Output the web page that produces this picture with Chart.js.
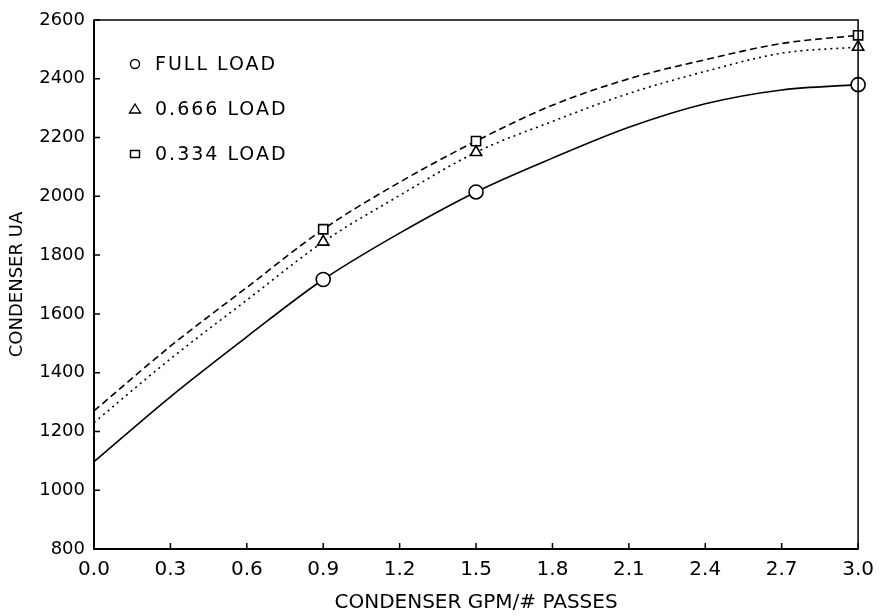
<!DOCTYPE html>
<html>
<head>
<meta charset="utf-8">
<script src="https://cdn.jsdelivr.net/npm/chart.js@4.4.1/dist/chart.umd.min.js"></script>
<style>
  html, body { margin: 0; padding: 0; background: #fff; }
  #wrap { width: 883px; height: 616px; }
</style>
</head>
<body>
<div id="wrap"><canvas id="ua-chart"></canvas></div>
<script>
// values
const xValues = [0.0, 0.3, 0.6, 0.9, 1.2, 1.5, 1.8, 2.1, 2.4, 2.7, 3.0];
const fullLoad = [1097, 1318, 1522, 1717, 1875, 2015, 2130, 2235, 2315, 2362, 2380];
const load666 = [1230, 1447, 1647, 1845, 2003, 2150, 2255, 2350, 2425, 2487, 2508];
const load334 = [1270, 1490, 1690, 1888, 2048, 2188, 2310, 2400, 2465, 2520, 2548];
const markerX = [0.9, 1.5, 3.0]; // only these points carry a symbol
const seriesNames = ['FULL LOAD', '0.666 LOAD', '0.334 LOAD'];
const xTicks = [0.0, 0.3, 0.6, 0.9, 1.2, 1.5, 1.8, 2.1, 2.4, 2.7, 3.0];
const yTicks = [800, 1000, 1200, 1400, 1600, 1800, 2000, 2200, 2400, 2600];

const FONT = '"DejaVu Sans", sans-serif';

function pts(ys) {
  return xValues.map((x, i) => ({ x: x, y: ys[i] }));
}

function makeSet(label, ys, style, dash) {
  return {
    label: label,
    data: pts(ys),
    borderColor: '#000',
    borderWidth: 1.6,
    borderDash: dash,
    cubicInterpolationMode: 'monotone',
    pointStyle: style,
    pointRadius: c => markerX.includes(xValues[c.dataIndex]) ? (style === 'circle' ? 7 : 6.5) : 0,
    pointBackgroundColor: '#fff',
    pointBorderColor: '#000',
    pointBorderWidth: 1.6,
    clip: false
  };
}

// inward tick marks, frame and in-plot legend
const framePlugin = {
  id: 'frame',
  afterDraw(chart) {
    const { ctx, chartArea: a, scales } = chart;
    ctx.save();
    ctx.strokeStyle = '#000';
    ctx.lineWidth = 1.5;
    ctx.strokeRect(a.left, a.top, a.right - a.left, a.bottom - a.top);
    ctx.lineWidth = 2;
    ctx.beginPath();
    ctx.moveTo(a.left, a.top); ctx.lineTo(a.left, a.bottom); ctx.lineTo(a.right, a.bottom);
    ctx.stroke();
    ctx.lineWidth = 1.5;
    ctx.beginPath();
    yTicks.forEach(v => {
      const y = scales.y.getPixelForValue(v);
      ctx.moveTo(a.left, y); ctx.lineTo(a.left + 6, y);
    });
    xTicks.forEach(v => {
      const x = scales.x.getPixelForValue(v);
      ctx.moveTo(x, a.bottom); ctx.lineTo(x, a.bottom - 6);
    });
    ctx.stroke();

    // legend
    const styles = ['circle', 'triangle', 'rect'];
    ctx.font = '19px ' + FONT;
    ctx.letterSpacing = '2px';
    ctx.fillStyle = '#000';
    ctx.textBaseline = 'middle';
    ctx.lineWidth = 1.4;
    seriesNames.forEach((name, i) => {
      const sx = a.left + 41, sy = a.top + 44 + i * 45;
      ctx.beginPath();
      if (styles[i] === 'circle') {
        ctx.arc(sx, sy, 4.5, 0, Math.PI * 2);
      } else if (styles[i] === 'triangle') {
        ctx.moveTo(sx, sy - 5); ctx.lineTo(sx + 5.5, sy + 4); ctx.lineTo(sx - 5.5, sy + 4); ctx.closePath();
      } else {
        ctx.rect(sx - 4.5, sy - 3.5, 9, 7);
      }
      ctx.stroke();
      ctx.fillText(name, a.left + 61, sy + 1);
    });
    ctx.restore();
  }
};

const chart = new Chart(document.getElementById('ua-chart'), {
  type: 'line',
  data: {
    datasets: [
      makeSet(seriesNames[0], fullLoad, 'circle', []),
      makeSet(seriesNames[1], load666, 'triangle', [2, 4]),
      makeSet(seriesNames[2], load334, 'rect', [7, 4])
    ]
  },
  options: {
    responsive: true,
    maintainAspectRatio: false,
    animation: false,
    layout: { padding: { top: 20, right: 22, left: 0, bottom: 0 } },
    plugins: {
      legend: { display: false },
      tooltip: { enabled: false }
    },
    scales: {
      x: {
        type: 'linear',
        min: 0,
        max: 3.0,
        afterBuildTicks: s => { s.ticks = xTicks.map(v => ({ value: v })); },
        afterFit: s => { s.height = 67; },
        grid: { display: false, drawTicks: false },
        border: { display: false },
        ticks: {
          color: '#000',
          padding: 9,
          font: { family: FONT, size: 20 },
          callback: v => Number(v).toFixed(1)
        },
        title: {
          display: true,
          text: 'CONDENSER GPM/# PASSES',
          color: '#000',
          font: { family: FONT, size: 20 },
          padding: { top: 0, bottom: 1 }
        }
      },
      y: {
        min: 800,
        max: 2600,
        afterBuildTicks: s => { s.ticks = yTicks.map(v => ({ value: v })); },
        afterFit: s => { s.width = 94; },
        grid: { display: false, drawTicks: false },
        border: { display: false },
        ticks: {
          color: '#000',
          padding: 9,
          font: { family: FONT, size: 18 },
          callback: v => String(v)
        },
        title: {
          display: true,
          text: 'CONDENSER UA',
          color: '#000',
          font: { family: FONT, size: 18 },
          padding: { top: 7, bottom: 0 }
        }
      }
    }
  },
  plugins: [framePlugin]
});
</script>
</body>
</html>
